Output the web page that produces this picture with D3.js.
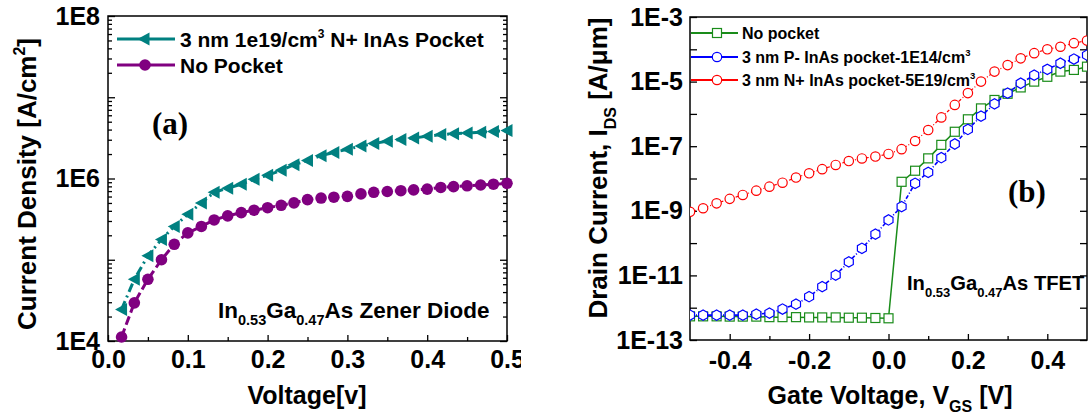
<!DOCTYPE html>
<html>
<head>
<meta charset="utf-8">
<script src="https://cdn.jsdelivr.net/npm/d3@7"></script>
<style>
  body { margin: 0; background: #fff; }
  svg { display: block; }
</style>
</head>
<body>
<script>
// Panel (a): zener diode current density vs voltage
var diodeVoltage = [0.017, 0.033, 0.05, 0.067, 0.083, 0.1, 0.117, 0.133, 0.15, 0.167,
  0.183, 0.2, 0.217, 0.233, 0.25, 0.267, 0.283, 0.3, 0.317, 0.333,
  0.35, 0.367, 0.383, 0.4, 0.417, 0.433, 0.45, 0.467, 0.483, 0.5];
var pocketDensity = [2.45e4, 5.75e4, 1.12e5, 1.78e5, 2.57e5, 3.63e5, 5.0e5, 6.76e5, 7.59e5, 8.51e5,
  9.77e5, 1.10e6, 1.26e6, 1.48e6, 1.66e6, 1.91e6, 2.09e6, 2.29e6, 2.51e6, 2.69e6,
  2.88e6, 3.02e6, 3.16e6, 3.31e6, 3.47e6, 3.55e6, 3.63e6, 3.72e6, 3.80e6, 3.89e6];
var noPocketDensity = [1.12e4, 2.95e4, 5.75e4, 1.0e5, 1.55e5, 2.14e5, 2.57e5, 3.09e5, 3.47e5, 3.80e5,
  4.07e5, 4.37e5, 4.68e5, 5.01e5, 5.50e5, 5.75e5, 5.89e5, 6.03e5, 6.46e5, 6.76e5,
  6.92e5, 7.08e5, 7.24e5, 7.41e5, 7.76e5, 7.94e5, 8.13e5, 8.32e5, 8.51e5, 8.71e5];
var diodeXTicks = [0, 0.1, 0.2, 0.3, 0.4, 0.5];
var diodeXMinor = [0.05, 0.15, 0.25, 0.35, 0.45];

// Panel (b): TFET drain current vs gate voltage
var gateVoltage = [-0.5, -0.467, -0.433, -0.4, -0.367, -0.333, -0.3, -0.267, -0.233, -0.2, -0.167,
  -0.133, -0.1, -0.067, -0.033, 0, 0.033, 0.067, 0.1, 0.133, 0.167,
  0.2, 0.233, 0.267, 0.3, 0.333, 0.367, 0.4, 0.433, 0.467, 0.5];
var noPocketCurrent = [5.4e-13, 5.4e-13, 5.4e-13, 5.3e-13, 5.3e-13, 5.3e-13, 5.1e-13, 5.1e-13, 5.1e-13, 5.0e-13, 5.0e-13,
  5.0e-13, 4.9e-13, 4.9e-13, 4.8e-13, 4.7e-13, 7.9e-9, 1.74e-8, 4.2e-8, 1.1e-7, 2.8e-7,
  6.8e-7, 1.48e-6, 2.7e-6, 4.2e-6, 6.6e-6, 1.0e-5, 1.41e-5, 2.04e-5, 2.3e-5, 2.9e-5];
var pMinusCurrent = [5.9e-13, 5.9e-13, 5.9e-13, 5.9e-13, 5.9e-13, 6.3e-13, 6.8e-13, 9.1e-13, 1.29e-12, 2.19e-12, 4.5e-12,
  1.02e-11, 2.63e-11, 6.9e-11, 1.9e-10, 5.2e-10, 1.35e-9, 7.1e-9, 1.55e-8, 4.4e-8, 1.17e-7,
  3.3e-7, 8.5e-7, 2.04e-6, 4.4e-6, 8.9e-6, 1.58e-5, 2.4e-5, 3.7e-5, 5.0e-5, 6.6e-5];
var nPlusCurrent = [9.3e-10, 1.2e-9, 1.7e-9, 2.34e-9, 3.1e-9, 4.2e-9, 5.6e-9, 7.4e-9, 1.07e-8, 1.45e-8, 1.95e-8,
  2.63e-8, 3.47e-8, 4.17e-8, 4.79e-8, 5.75e-8, 8.1e-8, 1.45e-7, 3.16e-7, 7.8e-7, 1.9e-6,
  4.4e-6, 1.0e-5, 2.04e-5, 3.24e-5, 5.25e-5, 7.6e-5, 1.0e-4, 1.2e-4, 1.55e-4, 1.86e-4];
var gateXTicks = [-0.4, -0.2, 0, 0.2, 0.4];
var gateXMinor = [-0.3, -0.1, 0.1, 0.3];

var sansFont = "'Liberation Sans', Arial, sans-serif";
var serifFont = "'Liberation Serif', 'Times New Roman', serif";

var svg = d3.select("body").append("svg")
  .attr("width", 1088)
  .attr("height", 416);

function zip(xs, ys) {
  return xs.map(function(x, i) { return {x: x, y: ys[i]}; });
}

// draw frame, log y axis on both sides and bottom x axis
function drawFrame(g, x, y, box, opts) {
  g.append("rect")
    .attr("x", box.left).attr("y", box.top)
    .attr("width", box.right - box.left).attr("height", box.bottom - box.top)
    .attr("fill", "none").attr("stroke", "#000").attr("stroke-width", 1.5);

  var lo = Math.round(Math.log10(y.domain()[0]));
  var hi = Math.round(Math.log10(y.domain()[1]));
  var decades = d3.range(lo, hi + 1).map(function(e) { return Math.pow(10, e); });
  var minor = y.ticks().filter(function(d) {
    var e = Math.log10(d);
    return Math.abs(e - Math.round(e)) > 1e-6;
  });
  var fmt = function(d) {
    var e = Math.round(Math.log10(d));
    return ((hi - e) % 2 === 0) ? "1E" + e : "";
  };

  var yl = g.append("g").attr("transform", "translate(" + box.left + ",0)")
    .call(d3.axisLeft(y).tickValues(decades).tickSize(-7).tickPadding(opts.yPad).tickFormat(fmt));
  g.append("g").attr("transform", "translate(" + box.left + ",0)")
    .call(d3.axisLeft(y).tickValues(minor).tickSize(-4).tickFormat(""));
  g.append("g").attr("transform", "translate(" + box.right + ",0)")
    .call(d3.axisRight(y).tickValues(decades).tickSize(-7).tickFormat(""));
  g.append("g").attr("transform", "translate(" + box.right + ",0)")
    .call(d3.axisRight(y).tickValues(minor).tickSize(-4).tickFormat(""));

  var xl = g.append("g").attr("transform", "translate(0," + box.bottom + ")")
    .call(d3.axisBottom(x).tickValues(opts.xTicks).tickSize(-6).tickPadding(opts.xPad)
      .tickFormat(function(d) { return d.toFixed(1); }));
  g.append("g").attr("transform", "translate(0," + box.bottom + ")")
    .call(d3.axisBottom(x).tickValues(opts.xMinor).tickSize(-4).tickFormat(""));

  g.selectAll(".domain").remove();
  g.selectAll(".tick line").attr("stroke", "#000").attr("stroke-width", 1.3);
  [yl, xl].forEach(function(a) {
    a.attr("font-size", 25).attr("font-family", sansFont).attr("font-weight", "bold");
    a.selectAll("text").attr("fill", "#000");
  });
}

// text with sub/superscripts: parts = [[text, "n"|"sub"|"sup"], ...]
function richText(sel, parts, size, subSize) {
  var shift = 0;
  parts.forEach(function(p) {
    var target = p[1] === "sub" ? size * 0.33 : p[1] === "sup" ? -size * 0.42 : 0;
    sel.append("tspan")
      .attr("dy", target - shift)
      .attr("font-size", p[1] === "n" ? size : subSize)
      .text(p[0]);
    shift = target;
  });
  return sel;
}

/* ---------------- panel (a) ---------------- */
var boxA = {left: 108, right: 507, top: 16, bottom: 341};
svg.append("clipPath").attr("id", "clipA-all")
  .append("rect").attr("x", 0).attr("y", 0).attr("width", 521).attr("height", 416);
svg.append("clipPath").attr("id", "clipA")
  .append("rect").attr("x", boxA.left).attr("y", boxA.top)
  .attr("width", boxA.right - boxA.left + 8).attr("height", boxA.bottom - boxA.top + 8);

var gA = svg.append("g").attr("clip-path", "url(#clipA-all)");

var xA = d3.scaleLinear().domain([0, 0.5]).range([boxA.left, boxA.right]);
var yA = d3.scaleLog().domain([1e4, 1e8]).range([boxA.bottom, boxA.top]);

drawFrame(gA, xA, yA, boxA, {xTicks: diodeXTicks, xMinor: diodeXMinor, yPad: 8, xPad: 9});

var teal = "#008080", purple = "#800080";
var triPath = "M-6.5,0L5.5,-6.5L5.5,6.5Z";

var marksA = gA.append("g").attr("clip-path", "url(#clipA)");
var lineA = d3.line().x(function(d) { return xA(d.x); }).y(function(d) { return yA(d.y); });

var pocketData = zip(diodeVoltage, pocketDensity);
var noPocketData = zip(diodeVoltage, noPocketDensity);

marksA.append("path").datum(pocketData).attr("d", lineA)
  .attr("fill", "none").attr("stroke", teal).attr("stroke-width", 3)
  .attr("stroke-dasharray", "9,4,2,4");
marksA.selectAll(".tri").data(pocketData).enter().append("path")
  .attr("class", "tri")
  .attr("d", triPath)
  .attr("transform", function(d) { return "translate(" + xA(d.x) + "," + yA(d.y) + ")"; })
  .attr("fill", teal);

marksA.append("path").datum(noPocketData).attr("d", lineA)
  .attr("fill", "none").attr("stroke", purple).attr("stroke-width", 3)
  .attr("stroke-dasharray", "9,4");
marksA.selectAll(".dot").data(noPocketData).enter().append("circle")
  .attr("class", "dot")
  .attr("cx", function(d) { return xA(d.x); })
  .attr("cy", function(d) { return yA(d.y); })
  .attr("r", 5.8)
  .attr("fill", purple);

// legend (a)
var legA = gA.append("g");
legA.append("line").attr("x1", 117).attr("x2", 175).attr("y1", 39).attr("y2", 39)
  .attr("stroke", teal).attr("stroke-width", 3);
legA.append("path").attr("d", triPath).attr("transform", "translate(144,39)").attr("fill", teal);
richText(legA.append("text").attr("x", 180).attr("y", 47)
  .attr("font-family", sansFont).attr("font-weight", "bold"),
  [["3 nm 1e19/cm", "n"], ["3", "sup"], [" N+ InAs Pocket", "n"]], 21, 12);
legA.append("line").attr("x1", 117).attr("x2", 175).attr("y1", 65).attr("y2", 65)
  .attr("stroke", purple).attr("stroke-width", 3);
legA.append("circle").attr("cx", 145).attr("cy", 65).attr("r", 5.8).attr("fill", purple);
legA.append("text").attr("x", 180).attr("y", 73)
  .attr("font-family", sansFont).attr("font-weight", "bold").attr("font-size", 21)
  .text("No Pocket");

gA.append("text").attr("x", 152).attr("y", 134)
  .attr("font-family", serifFont).attr("font-weight", "bold").attr("font-size", 31)
  .text("(a)");

richText(gA.append("text").attr("x", 218).attr("y", 318)
  .attr("font-family", sansFont).attr("font-weight", "bold"),
  [["In", "n"], ["0.53", "sub"], ["Ga", "n"], ["0.47", "sub"], ["As Zener Diode", "n"]], 22.5, 14.5);

richText(gA.append("text")
  .attr("transform", "translate(36,184) rotate(-90)")
  .attr("text-anchor", "middle")
  .attr("font-family", sansFont).attr("font-weight", "bold"),
  [["Current Density [A/cm", "n"], ["2", "sup"], ["]", "n"]], 26, 16);

gA.append("text").attr("x", 307).attr("y", 404)
  .attr("text-anchor", "middle")
  .attr("font-family", sansFont).attr("font-weight", "bold").attr("font-size", 25)
  .text("Voltage[v]");

/* ---------------- panel (b) ---------------- */
var boxB = {left: 690, right: 1087, top: 17, bottom: 340};
svg.append("clipPath").attr("id", "clipB")
  .append("rect").attr("x", boxB.left).attr("y", boxB.top)
  .attr("width", boxB.right - boxB.left).attr("height", boxB.bottom - boxB.top);

var gB = svg.append("g");
var xB = d3.scaleLinear().domain([-0.5, 0.5]).range([boxB.left, boxB.right]);
var yB = d3.scaleLog().domain([1e-13, 1e-3]).range([boxB.bottom, boxB.top]);

drawFrame(gB, xB, yB, boxB, {xTicks: gateXTicks, xMinor: gateXMinor, yPad: 7, xPad: 11});

var green = "#1a8c1a", blue = "#0000ff", red = "#ff0000";
var lineB = d3.line().x(function(d) { return xB(d.x); }).y(function(d) { return yB(d.y); });
var marksB = gB.append("g").attr("clip-path", "url(#clipB)");

var hexPath = d3.range(6).map(function(i) {
  var a = Math.PI / 3 * i + Math.PI / 6;
  return (i ? "L" : "M") + (5.2 * Math.cos(a)).toFixed(2) + "," + (5.2 * Math.sin(a)).toFixed(2);
}).join("") + "Z";

var greenData = zip(gateVoltage, noPocketCurrent);
var blueData = zip(gateVoltage, pMinusCurrent);
var redData = zip(gateVoltage, nPlusCurrent);

marksB.append("path").datum(greenData).attr("d", lineB)
  .attr("fill", "none").attr("stroke", green).attr("stroke-width", 1.5);
marksB.selectAll(".sq").data(greenData).enter().append("rect")
  .attr("class", "sq")
  .attr("x", function(d) { return xB(d.x) - 4.5; })
  .attr("y", function(d) { return yB(d.y) - 4.5; })
  .attr("width", 9).attr("height", 9)
  .attr("fill", "#fff").attr("stroke", green).attr("stroke-width", 1.2);

marksB.append("path").datum(blueData).attr("d", lineB)
  .attr("fill", "none").attr("stroke", blue).attr("stroke-width", 1.6)
  .attr("stroke-dasharray", "4,2,1,2");
marksB.selectAll(".hex").data(blueData).enter().append("path")
  .attr("class", "hex")
  .attr("d", hexPath)
  .attr("transform", function(d) { return "translate(" + xB(d.x) + "," + yB(d.y) + ")"; })
  .attr("fill", "#fff").attr("stroke", blue).attr("stroke-width", 1.2);

marksB.append("path").datum(redData).attr("d", lineB)
  .attr("fill", "none").attr("stroke", red).attr("stroke-width", 1.2)
  .attr("stroke-dasharray", "3,2,1,2");
marksB.selectAll(".ring").data(redData).enter().append("circle")
  .attr("class", "ring")
  .attr("cx", function(d) { return xB(d.x); })
  .attr("cy", function(d) { return yB(d.y); })
  .attr("r", 4.7)
  .attr("fill", "#fff").attr("stroke", red).attr("stroke-width", 1.2);

// legend (b)
var legB = gB.append("g");
var legRows = [
  {y: 33, color: green, label: [["No pocket", "n"]], shape: "square"},
  {y: 57, color: blue, label: [["3 nm P- InAs pocket-1E14/cm", "n"], ["3", "sup"]], shape: "circle"},
  {y: 80, color: red, label: [["3 nm N+ InAs pocket-5E19/cm", "n"], ["3", "sup"]], shape: "circle"}
];
legRows.forEach(function(r) {
  legB.append("line").attr("x1", 691).attr("x2", 738).attr("y1", r.y).attr("y2", r.y)
    .attr("stroke", r.color).attr("stroke-width", 1.8);
  if (r.shape === "square") {
    legB.append("rect").attr("x", 712.5).attr("y", r.y - 4.5).attr("width", 9).attr("height", 9)
      .attr("fill", "#fff").attr("stroke", r.color).attr("stroke-width", 1.2);
  } else {
    legB.append("circle").attr("cx", 717).attr("cy", r.y).attr("r", 4.7)
      .attr("fill", "#fff").attr("stroke", r.color).attr("stroke-width", 1.2);
  }
  richText(legB.append("text").attr("x", 742).attr("y", r.y + 6)
    .attr("font-family", sansFont).attr("font-weight", "bold"),
    r.label, 16, 9.5);
});

gB.append("text").attr("x", 1008).attr("y", 202)
  .attr("font-family", serifFont).attr("font-weight", "bold").attr("font-size", 31)
  .text("(b)");

richText(gB.append("text").attr("x", 907).attr("y", 290)
  .attr("font-family", sansFont).attr("font-weight", "bold"),
  [["In", "n"], ["0.53", "sub"], ["Ga", "n"], ["0.47", "sub"], ["As TFET", "n"]], 20.2, 13);

richText(gB.append("text")
  .attr("transform", "translate(607,168) rotate(-90)")
  .attr("text-anchor", "middle")
  .attr("font-family", sansFont).attr("font-weight", "bold"),
  [["Drain Current, I", "n"], ["DS", "sub"], [" [A/\u03bcm]", "n"]], 26, 16);

richText(gB.append("text").attr("x", 890).attr("y", 404)
  .attr("text-anchor", "middle")
  .attr("font-family", sansFont).attr("font-weight", "bold"),
  [["Gate Voltage, V", "n"], ["GS", "sub"], [" [V]", "n"]], 25, 16);
</script>
</body>
</html>
